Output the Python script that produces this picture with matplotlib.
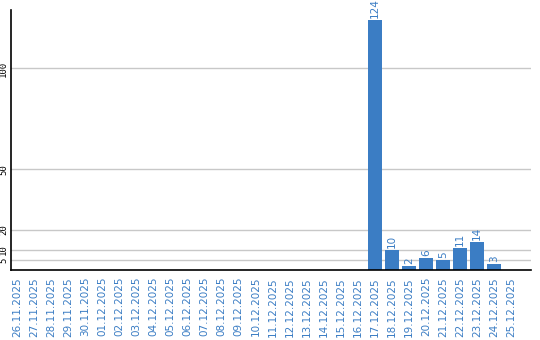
"""Daily counts bar chart, 26.11.2025 - 25.12.2025."""

import matplotlib

matplotlib.use("Agg")
import matplotlib.pyplot as plt

DATES = [
    "26.11.2025", "27.11.2025", "28.11.2025", "29.11.2025", "30.11.2025",
    "01.12.2025", "02.12.2025", "03.12.2025", "04.12.2025", "05.12.2025",
    "06.12.2025", "07.12.2025", "08.12.2025", "09.12.2025", "10.12.2025",
    "11.12.2025", "12.12.2025", "13.12.2025", "14.12.2025", "15.12.2025",
    "16.12.2025", "17.12.2025", "18.12.2025", "19.12.2025", "20.12.2025",
    "21.12.2025", "22.12.2025", "23.12.2025", "24.12.2025", "25.12.2025",
]
COUNTS = [0] * 21 + [124, 10, 2, 6, 5, 11, 14, 3, 0]
Y_TICKS = [5, 10, 20, 50, 100]

BLUE = "#3b7dc4"


def main() -> None:
    fig = plt.figure(figsize=(5.4, 3.4), dpi=100)
    ax = fig.add_axes([10.5 / 540, 1 - 270 / 340, (531 - 10.5) / 540, 260 / 340])

    x = range(len(DATES))
    bars = ax.bar(x, COUNTS, width=0.82, color=BLUE, zorder=2)
    for bar, value in zip(bars, COUNTS):
        if value > 0:
            ax.text(bar.get_x() + bar.get_width() / 2, value + 0.8, str(value),
                    rotation=90, ha="center", va="bottom", color=BLUE, fontsize=7.5)

    ax.set_xlim(-0.38, 30.15)
    ax.set_ylim(0, 129)
    ax.set_xticks(list(x), DATES, rotation=90, color=BLUE, fontsize=7.5)
    ax.set_yticks(Y_TICKS, [str(t) for t in Y_TICKS], rotation=90, va="center",
                  fontsize=6.5, family="DejaVu Sans Mono")
    ax.tick_params(axis="x", length=0, pad=5)
    ax.tick_params(axis="y", length=0, pad=1.8)
    ax.grid(axis="y", color="#c8c8c8", linewidth=1, zorder=1)
    for side in ("top", "right"):
        ax.spines[side].set_visible(False)
    for side in ("left", "bottom"):
        ax.spines[side].set_linewidth(1.2)
        ax.spines[side].set_zorder(3)

    fig.savefig("out.png", dpi=100, facecolor="white")


if __name__ == "__main__":
    main()
